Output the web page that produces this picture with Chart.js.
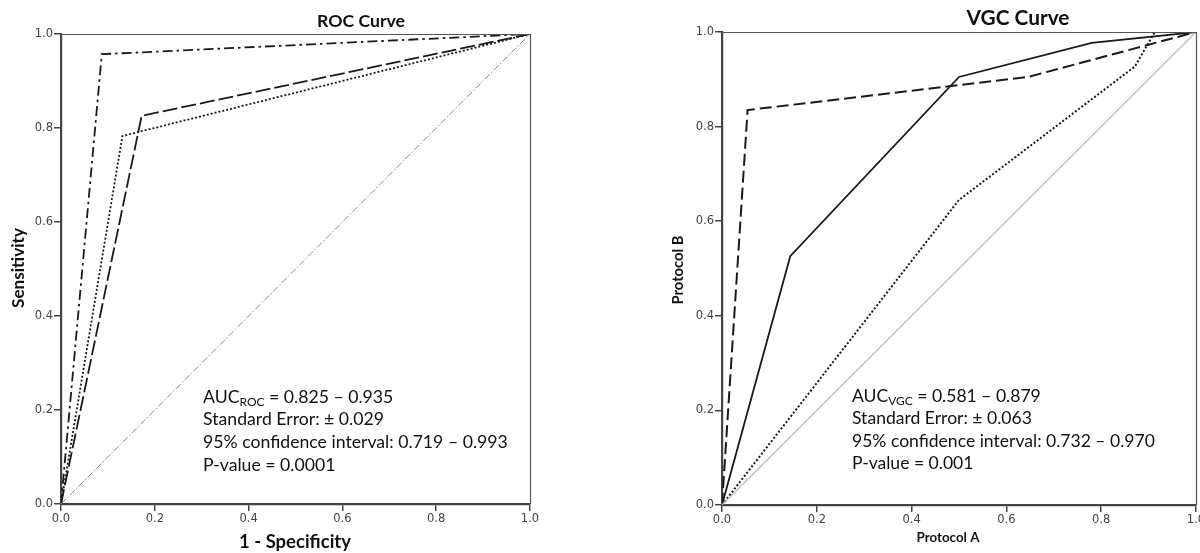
<!DOCTYPE html>
<html><head><meta charset="utf-8">
<script src="https://cdn.jsdelivr.net/npm/chart.js@4/dist/chart.umd.min.js"></script>
<style>
html,body{margin:0;padding:0;background:#fff;overflow:hidden;}
#wrap{position:relative;width:1200px;height:553px;overflow:hidden;}
.box{position:absolute;top:0;height:553px;}
#b1{left:0;width:600px;}
#b2{left:600px;width:620px;}
</style></head><body>
<div id="wrap">
  <div class="box" id="b1"><canvas id="c1"></canvas></div>
  <div class="box" id="b2"><canvas id="c2"></canvas></div>
</div>
<script>
// ---------- data ----------
const tickLabels = ['0.0', '0.2', '0.4', '0.6', '0.8', '1.0'];

// ROC curve (x = 1 - specificity, y = sensitivity)
const rocDashDotX  = [0, 0.087, 1];
const rocDashDotY  = [0, 0.957, 1];
const rocLongDashX = [0, 0.172, 1];
const rocLongDashY = [0, 0.826, 1];
const rocDottedX   = [0, 0.131, 1];
const rocDottedY   = [0, 0.783, 1];
const rocRefX      = [0, 1];
const rocRefY      = [0, 1];

// VGC curve (x = Protocol A, y = Protocol B)
const vgcSolidX  = [0, 0.144, 0.50, 0.78, 1];
const vgcSolidY  = [0, 0.526, 0.905, 0.977, 1];
const vgcDashedX = [0, 0.054, 0.646, 1];
const vgcDashedY = [0, 0.835, 0.905, 1];
const vgcDottedX = [0, 0.50, 0.871, 0.913, 1];
const vgcDottedY = [0, 0.645, 0.927, 1.0, 1];
const vgcRefX    = [0, 1];
const vgcRefY    = [0, 1];

const rocTitle = 'ROC Curve';
const rocXTitle = '1 - Specificity';
const rocYTitle = 'Sensitivity';
const rocAuc = ['AUC', 'ROC', ' = 0.825 \u2013 0.935'];
const rocNotes = ['Standard Error: \u00B1 0.029', '95% confidence interval: 0.719 \u2013 0.993', 'P-value = 0.0001'];

const vgcTitle = 'VGC Curve';
const vgcXTitle = 'Protocol A';
const vgcYTitle = 'Protocol B';
const vgcAuc = ['AUC', 'VGC', ' = 0.581 \u2013 0.879'];
const vgcNotes = ['Standard Error: \u00B1 0.063', '95% confidence interval: 0.732 \u2013 0.970', 'P-value = 0.001'];

// ---------- helpers ----------
function pts(xs, ys) { return xs.map((x, i) => ({ x: x, y: ys[i] })); }

function fitFont(ctx, text, weight, family, width) {
  ctx.font = weight + ' 100px ' + family;
  const w = ctx.measureText(text).width;
  return 100 * width / w;
}

const decor = {
  id: 'decor',
  afterDraw(chart, args, o) {
    const ctx = chart.ctx, a = chart.chartArea;
    ctx.save();
    // top & right frame
    ctx.strokeStyle = '#555';
    ctx.lineWidth = 1.2;
    ctx.beginPath();
    ctx.moveTo(a.left, a.top + 0.5);
    ctx.lineTo(a.right + 0.5, a.top + 0.5);
    ctx.lineTo(a.right + 0.5, a.bottom);
    ctx.stroke();

    const fam = 'Lato, "Open Sans", sans-serif';
    ctx.fillStyle = '#111';
    ctx.textBaseline = 'middle';
    ctx.textAlign = 'center';
    // chart title
    let s = fitFont(ctx, o.title, 'bold', fam, o.titleW);
    ctx.font = 'bold ' + s + 'px ' + fam;
    ctx.fillText(o.title, o.titleX, o.titleY);
    // x title
    s = fitFont(ctx, o.xTitle, 'bold', fam, o.xTitleW);
    ctx.font = 'bold ' + s + 'px ' + fam;
    ctx.fillText(o.xTitle, o.xTitleX, o.xTitleY);
    // y title
    s = fitFont(ctx, o.yTitle, 'bold', fam, o.yTitleW);
    ctx.font = 'bold ' + s + 'px ' + fam;
    ctx.save();
    ctx.translate(o.yTitleX, o.yTitleY);
    ctx.rotate(-Math.PI / 2);
    ctx.fillText(o.yTitle, 0, 0);
    ctx.restore();

    // notes
    ctx.textAlign = 'left';
    ctx.fillStyle = '#111';
    s = fitFont(ctx, o.notes[1], 'normal', fam, o.notesW);
    const big = 'normal ' + s + 'px ' + fam;
    const small = 'normal ' + (s * 0.68) + 'px ' + fam;
    let x = o.notesX, y = o.notesY;
    ctx.font = big; ctx.fillText(o.auc[0], x, y); x += ctx.measureText(o.auc[0]).width;
    ctx.font = small; ctx.fillText(o.auc[1], x, y + s * 0.28); x += ctx.measureText(o.auc[1]).width;
    ctx.font = big; ctx.fillText(o.auc[2], x, y);
    o.notes.forEach((t, i) => { ctx.fillText(t, o.notesX, o.notesY + o.lineH * (i + 1)); });
    ctx.restore();
  }
};

function scales(yW, xH) {
  const mk = (fit) => ({
    type: 'linear', min: 0, max: 1,
    afterFit: fit,
    ticks: {
      stepSize: 0.2, autoSkip: false, maxRotation: 0, padding: 1,
      color: '#444', font: { family: '"DejaVu Sans", sans-serif', size: 11.5 },
      callback: (v, i) => tickLabels[i]
    },
    grid: { display: true, drawOnChartArea: false, drawTicks: true, tickLength: 7, color: '#444', lineWidth: 1.5 },
    border: { display: true, color: '#444', width: 2.2 }
  });
  return {
    x: mk(s => { s.height = xH; }),
    y: mk(s => { s.width = yW; })
  };
}

function line(xs, ys, color, width, dash) {
  return { data: pts(xs, ys), borderColor: color, borderWidth: width, borderDash: dash,
           pointRadius: 0, tension: 0, fill: false, borderCapStyle: 'butt', borderJoinStyle: 'miter' };
}

Chart.defaults.animation = false;

// ---------- ROC chart ----------
new Chart(document.getElementById('c1'), {
  type: 'line',
  data: { datasets: [
    line(rocRefX, rocRefY, '#8a8a8a', 1, [7, 2, 1.5, 2]),
    line(rocDottedX, rocDottedY, '#1a1a1a', 1.8, [2, 2]),
    line(rocLongDashX, rocLongDashY, '#1a1a1a', 1.8, [15, 4]),
    line(rocDashDotX, rocDashDotY, '#1a1a1a', 1.8, [10, 4, 2.5, 4])
  ]},
  options: {
    responsive: true, maintainAspectRatio: false,
    layout: { padding: { left: 0, right: 70, top: 34, bottom: 0 } },
    scales: scales(61, 49),
    plugins: {
      legend: { display: false }, tooltip: { enabled: false },
      decor: {
        title: rocTitle, titleX: 361, titleY: 21, titleW: 88,
        xTitle: rocXTitle, xTitleX: 295, xTitleY: 542, xTitleW: 112,
        yTitle: rocYTitle, yTitleX: 18, yTitleY: 268, yTitleW: 80,
        auc: rocAuc, notes: rocNotes, notesX: 203, notesY: 397, lineH: 22.7, notesW: 305
      }
    }
  },
  plugins: [decor]
});

// ---------- VGC chart ----------
new Chart(document.getElementById('c2'), {
  type: 'line',
  data: { datasets: [
    line(vgcRefX, vgcRefY, '#c0c0c0', 1.4, []),
    line(vgcDottedX, vgcDottedY, '#1a1a1a', 2, [2, 2]),
    line(vgcDashedX, vgcDashedY, '#1a1a1a', 2, [12, 5]),
    line(vgcSolidX, vgcSolidY, '#1a1a1a', 1.8, [])
  ]},
  options: {
    responsive: true, maintainAspectRatio: false,
    layout: { padding: { left: 0, right: 24, top: 32, bottom: 0 } },
    scales: scales(122, 48),
    plugins: {
      legend: { display: false }, tooltip: { enabled: false },
      decor: {
        title: vgcTitle, titleX: 418, titleY: 18, titleW: 103,
        xTitle: vgcXTitle, xTitleX: 348, xTitleY: 538, xTitleW: 63,
        yTitle: vgcYTitle, yTitleX: 78, yTitleY: 270, yTitleW: 69,
        auc: vgcAuc, notes: vgcNotes, notesX: 252, notesY: 396, lineH: 22.5, notesW: 303
      }
    }
  },
  plugins: [decor]
});
</script>
</body></html>
